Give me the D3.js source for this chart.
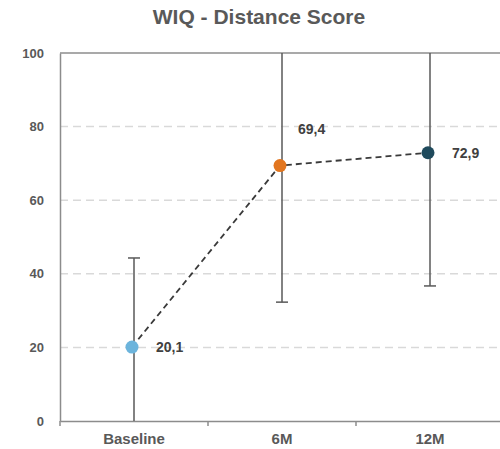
<!DOCTYPE html>
<html>
<head>
<meta charset="utf-8">
<script src="https://cdn.jsdelivr.net/npm/d3@7"></script>
<style>
  body { margin: 0; background: #fff; }
  text { font-family: "Liberation Sans", Arial, sans-serif; font-weight: bold; }
</style>
</head>
<body>
<svg width="500" height="449"></svg>
<script>
const categories = ["Baseline", "6M", "12M"];
const means = [20.1, 69.4, 72.9];
const errors = [24.2, 37.1, 36.2];
const labels = ["20,1", "69,4", "72,9"];
const colors = ["#6cb4dc", "#e2761f", "#1f4a5c"];
const yTicks = [0, 20, 40, 60, 80, 100];

const svg = d3.select("svg");
const plotLeft = 60, plotRight = 504, plotTop = 53, plotBottom = 421;

const x = d3.scaleBand().domain(categories).range([plotLeft, plotRight]);
const y = d3.scaleLinear().domain([0, 100]).range([plotBottom, plotTop]);
const cx = d => x(d) + x.bandwidth() / 2;

svg.append("text")
   .attr("x", 259).attr("y", 24)
   .attr("text-anchor", "middle")
   .attr("font-size", 21)
   .attr("fill", "#595959")
   .text("WIQ - Distance Score");

// gridlines
svg.append("g").selectAll("line")
   .data(yTicks.filter(t => t > 0 && t < 100))
   .enter().append("line")
   .attr("x1", plotLeft).attr("x2", 500)
   .attr("y1", d => y(d)).attr("y2", d => y(d))
   .attr("stroke", "#d9d9d9").attr("stroke-width", 1.5)
   .attr("stroke-dasharray", "8,5");

// top border
svg.append("line")
   .attr("x1", plotLeft).attr("x2", 500).attr("y1", y(100)).attr("y2", y(100))
   .attr("stroke", "#8c8c8c").attr("stroke-width", 1.5);

// y axis
const yAxis = svg.append("g")
   .attr("transform", "translate(" + plotLeft + ",0)")
   .call(d3.axisLeft(y).tickValues(yTicks).tickSize(0).tickPadding(16));
yAxis.select(".domain").attr("stroke", "#8c8c8c").attr("stroke-width", 1.5);
yAxis.selectAll("text").attr("font-size", 13).attr("fill", "#595959")
   .attr("font-family", "Liberation Sans, Arial, sans-serif");

// x axis
const xAxis = svg.append("g")
   .attr("transform", "translate(0," + plotBottom + ")")
   .call(d3.axisBottom(x).tickSize(0).tickPadding(12));
xAxis.select(".domain").attr("stroke", "#8c8c8c").attr("stroke-width", 1.5);
xAxis.selectAll("text").attr("font-size", 15).attr("fill", "#595959")
   .attr("font-family", "Liberation Sans, Arial, sans-serif");
xAxis.selectAll(".sep")
   .data(categories)
   .enter().append("line")
   .attr("x1", d => x(d)).attr("x2", d => x(d))
   .attr("y1", 0).attr("y2", 5)
   .attr("stroke", "#8c8c8c").attr("stroke-width", 1.5);

// error bars, clipped to plot area
const eb = svg.append("g");
categories.forEach((c, i) => {
  const lo = means[i] - errors[i], hi = means[i] + errors[i];
  const x0 = cx(c);
  eb.append("line")
    .attr("x1", x0).attr("x2", x0)
    .attr("y1", y(Math.max(lo, 0))).attr("y2", y(Math.min(hi, 100)))
    .attr("stroke", "#595959").attr("stroke-width", 1.5);
  [lo, hi].filter(v => v > 0 && v < 100).forEach(v => {
    eb.append("line")
      .attr("x1", x0 - 6).attr("x2", x0 + 6)
      .attr("y1", y(v)).attr("y2", y(v))
      .attr("stroke", "#595959").attr("stroke-width", 1.5);
  });
});

// connecting line
const line = d3.line().x((d, i) => cx(categories[i]) - 2).y(d => y(d));
svg.append("path")
   .attr("d", line(means))
   .attr("fill", "none")
   .attr("stroke", "#3a3a3a").attr("stroke-width", 1.8)
   .attr("stroke-dasharray", "6,4");

// points
svg.append("g").selectAll("circle")
   .data(means)
   .enter().append("circle")
   .attr("cx", (d, i) => cx(categories[i]) - 2)
   .attr("cy", d => y(d))
   .attr("r", 6.5)
   .attr("fill", (d, i) => colors[i]);

// value labels
const labelOffset = [[22, 5], [16, -32], [22, 5]];
svg.append("g").selectAll("text")
   .data(means)
   .enter().append("text")
   .attr("x", (d, i) => cx(categories[i]) + labelOffset[i][0])
   .attr("y", (d, i) => y(d) + labelOffset[i][1])
   .attr("font-size", 14)
   .attr("fill", "#404040")
   .text((d, i) => labels[i]);
</script>
</body>
</html>
